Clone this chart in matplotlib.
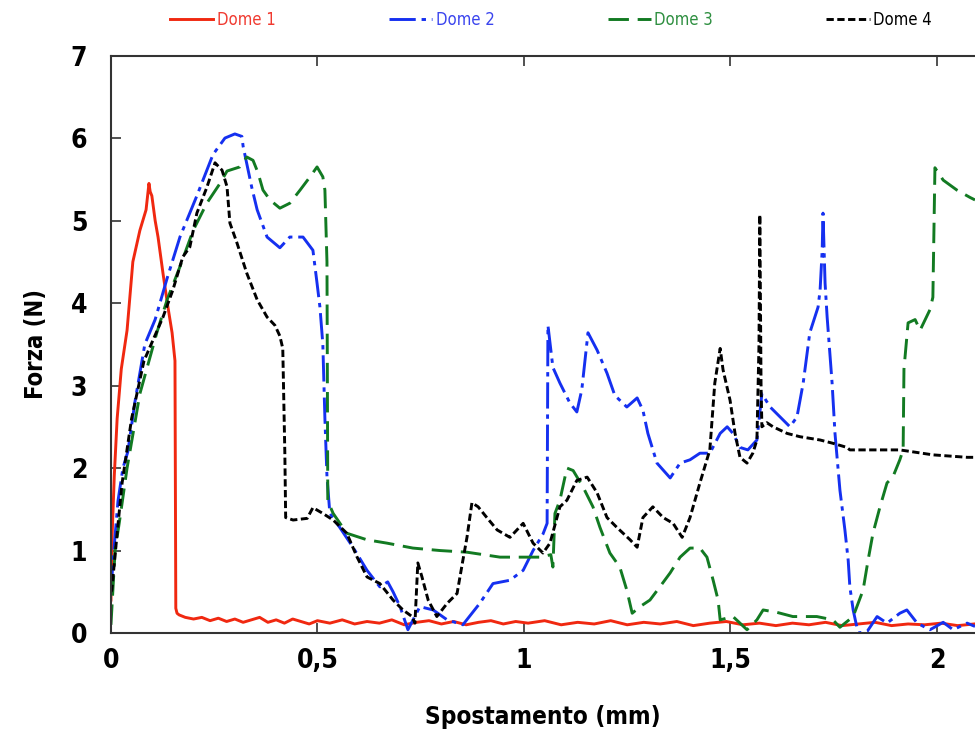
import matplotlib.pyplot as plt
from matplotlib.ticker import FuncFormatter

# Forza vs spostamento, quattro dome
dome1_x = [0, 0.003, 0.008, 0.015, 0.025, 0.039, 0.053, 0.070, 0.085, 0.092, 0.095, 0.099,
           0.107, 0.114, 0.126, 0.138, 0.148, 0.155, 0.157, 0.160,
           0.165, 0.18, 0.20, 0.22, 0.24, 0.26, 0.28, 0.30, 0.32, 0.34, 0.36, 0.38, 0.40,
           0.42, 0.44, 0.46, 0.48, 0.50, 0.53, 0.56, 0.59, 0.62, 0.65, 0.68, 0.71, 0.74,
           0.77, 0.80, 0.83, 0.86, 0.89, 0.92, 0.95, 0.98, 1.01, 1.05, 1.09, 1.13, 1.17,
           1.21, 1.25, 1.29, 1.33, 1.37, 1.41, 1.45, 1.49, 1.53, 1.57, 1.61, 1.65, 1.69,
           1.73, 1.77, 1.81, 1.85, 1.89, 1.93, 1.97, 2.01, 2.05, 2.09]
dome1_y = [0.4, 1.2, 1.9, 2.6, 3.2, 3.67, 4.5, 4.88, 5.13, 5.45, 5.35, 5.3,
           5.0, 4.8, 4.36, 3.95, 3.64, 3.3, 0.3, 0.24,
           0.22, 0.19, 0.17, 0.19, 0.15, 0.18, 0.14, 0.17, 0.13, 0.16, 0.19, 0.13, 0.16,
           0.12, 0.17, 0.14, 0.11, 0.15, 0.12, 0.16, 0.11, 0.14, 0.12, 0.16, 0.10, 0.13,
           0.15, 0.11, 0.14, 0.10, 0.13, 0.15, 0.11, 0.14, 0.12, 0.15, 0.10, 0.13, 0.11,
           0.15, 0.10, 0.13, 0.11, 0.14, 0.09, 0.12, 0.14, 0.10, 0.12, 0.09, 0.12, 0.10,
           0.13, 0.09, 0.11, 0.13, 0.09, 0.11, 0.10, 0.12, 0.09, 0.11]

dome2_x = [0, 0.005, 0.017, 0.029, 0.041, 0.058, 0.082, 0.107, 0.136, 0.167, 0.208, 0.247,
           0.276, 0.300, 0.317, 0.320, 0.341, 0.354, 0.378, 0.409, 0.433, 0.465, 0.489,
           0.499, 0.506, 0.513, 0.518, 0.523, 0.530, 0.554, 0.586, 0.620, 0.651, 0.670,
           0.683, 0.700, 0.719, 0.748, 0.780, 0.814, 0.852, 0.893, 0.925, 0.966, 0.998,
           1.022, 1.046, 1.056, 1.058, 1.070, 1.087, 1.111, 1.128, 1.140, 1.155, 1.177,
           1.201, 1.220, 1.249, 1.274, 1.288, 1.300, 1.322, 1.354, 1.378, 1.402, 1.426,
           1.450, 1.475, 1.492, 1.506, 1.523, 1.542, 1.564, 1.576, 1.596, 1.620, 1.644,
           1.661, 1.676, 1.692, 1.712, 1.717, 1.722, 1.724, 1.729, 1.734, 1.746, 1.753,
           1.765, 1.777, 1.785, 1.789, 1.797, 1.809, 1.831, 1.855, 1.879, 1.910, 1.927,
           1.952, 1.983, 2.015, 2.039, 2.073, 2.092]
dome2_y = [0.5, 0.88, 1.6, 2.0, 2.2, 2.8, 3.5, 3.8, 4.3, 4.8, 5.3, 5.8,
           6.0, 6.05, 6.02, 5.9, 5.4, 5.13, 4.8, 4.67, 4.8, 4.8, 4.64,
           4.24, 3.95, 3.5, 2.6, 1.9, 1.45, 1.28, 1.04, 0.76, 0.56, 0.62,
           0.5, 0.32, 0.04, 0.32, 0.28, 0.16, 0.10, 0.36, 0.6, 0.64, 0.76,
           1.0, 1.2, 1.33, 3.73, 3.22, 3.03, 2.79, 2.68, 2.95, 3.64, 3.43,
           3.15, 2.88, 2.74, 2.85, 2.7, 2.42, 2.06, 1.88, 2.06, 2.1, 2.18,
           2.18, 2.42, 2.5, 2.42, 2.25, 2.22, 2.34, 2.9, 2.74, 2.62, 2.5,
           2.62, 3.03, 3.64, 3.95, 4.16, 4.64, 5.09, 4.24, 3.83, 3.03, 2.42,
           1.73, 1.25, 0.88, 0.56, 0.28, 0.0, 0.02, 0.2, 0.12, 0.24, 0.28,
           0.12, 0.04, 0.13, 0.04, 0.12, 0.08]

dome3_x = [0, 0.002, 0.010, 0.022, 0.039, 0.046, 0.070, 0.111, 0.136, 0.167, 0.199, 0.232,
           0.264, 0.281, 0.312, 0.329, 0.344, 0.356, 0.368, 0.385, 0.409, 0.433, 0.458,
           0.482, 0.499, 0.513, 0.518, 0.523, 0.525, 0.538, 0.571, 0.620, 0.668, 0.731,
           0.797, 0.862, 0.942, 1.007, 1.040, 1.065, 1.070, 1.075, 1.087, 1.104, 1.119,
           1.143, 1.167, 1.184, 1.208, 1.232, 1.249, 1.262, 1.281, 1.305, 1.329, 1.354,
           1.378, 1.402, 1.426, 1.443, 1.458, 1.470, 1.475, 1.506, 1.540, 1.564, 1.579,
           1.613, 1.651, 1.709, 1.748, 1.765, 1.797, 1.821, 1.833, 1.845, 1.862, 1.879,
           1.893, 1.910, 1.918, 1.920, 1.930, 1.947, 1.959, 1.983, 1.990, 1.995, 2.015,
           2.048, 2.080, 2.092]
dome3_y = [0.1, 0.28, 1.0, 1.4, 2.0, 2.2, 2.9, 3.64, 4.04, 4.44, 4.88, 5.21,
           5.45, 5.6, 5.65, 5.77, 5.73, 5.58, 5.37, 5.25, 5.15, 5.21, 5.37,
           5.53, 5.65, 5.53, 5.37, 4.5, 1.6, 1.45, 1.21, 1.13, 1.09, 1.03,
           1.0, 0.98, 0.92, 0.92, 0.92, 0.95, 0.8, 1.45, 1.61, 2.0, 1.97,
           1.77, 1.53, 1.28, 0.97, 0.8, 0.52, 0.24, 0.32, 0.4, 0.56, 0.73,
           0.92, 1.03, 1.03, 0.92, 0.64, 0.4, 0.16, 0.2, 0.04, 0.16, 0.28,
           0.25, 0.2, 0.2, 0.16, 0.07, 0.2, 0.52, 0.88, 1.21, 1.53, 1.82,
           1.89, 2.1, 2.22, 3.2, 3.76, 3.8, 3.67, 3.92, 4.07, 5.64, 5.49,
           5.37, 5.28, 5.25]

dome4_x = [0, 0.002, 0.015, 0.027, 0.050, 0.080, 0.126, 0.150, 0.174, 0.191, 0.208, 0.232,
           0.252, 0.269, 0.281, 0.288, 0.305, 0.329, 0.354, 0.378, 0.397, 0.409, 0.416,
           0.421, 0.423, 0.441, 0.475, 0.489, 0.513, 0.538, 0.571, 0.596, 0.620, 0.651,
           0.683, 0.707, 0.729, 0.736, 0.743, 0.753, 0.768, 0.789, 0.814, 0.838, 0.852,
           0.862, 0.874, 0.889, 0.910, 0.935, 0.966, 0.998, 1.022, 1.046, 1.063, 1.087,
           1.104, 1.128, 1.153, 1.177, 1.201, 1.225, 1.257, 1.274, 1.288, 1.312, 1.337,
           1.361, 1.383, 1.402, 1.426, 1.450, 1.462, 1.475, 1.482, 1.499, 1.511, 1.523,
           1.540, 1.554, 1.564, 1.569, 1.571, 1.574, 1.576, 1.588, 1.603, 1.637, 1.668,
           1.717, 1.748, 1.782, 1.789, 1.910, 1.990, 2.073, 2.092]
dome4_y = [0.5, 0.52, 1.21, 1.82, 2.6, 3.3, 3.83, 4.16, 4.56, 4.68, 5.09, 5.4,
           5.7, 5.61, 5.41, 4.97, 4.73, 4.36, 4.04, 3.83, 3.73, 3.6, 3.45,
           2.18, 1.4, 1.37, 1.39, 1.52, 1.45, 1.37, 1.21, 0.92, 0.68, 0.6,
           0.4, 0.28, 0.2, 0.12, 0.85, 0.68, 0.4, 0.2, 0.36, 0.48, 0.88,
           1.16, 1.58, 1.53, 1.4, 1.25, 1.16, 1.33, 1.09, 0.97, 1.09, 1.53,
           1.61, 1.85, 1.89, 1.7, 1.4, 1.28, 1.13, 1.04, 1.4, 1.53, 1.4,
           1.33, 1.16, 1.4, 1.82, 2.22, 3.03, 3.45, 3.19, 2.82, 2.42, 2.13,
           2.06, 2.18, 2.34, 3.5, 5.07, 3.0, 2.5, 2.55, 2.5, 2.42, 2.38,
           2.34, 2.3, 2.25, 2.22, 2.22, 2.16, 2.13, 2.13]

labels = ["Dome 1", "Dome 2", "Dome 3", "Dome 4"]
x_ticks = [0, 0.5, 1, 1.5, 2]
y_ticks = [0, 1, 2, 3, 4, 5, 6, 7]

# font stretta (condensed) per etichette e legenda
narrow = {'family': 'DejaVu Sans', 'stretch': 'condensed'}

fig = plt.figure(figsize=(9.75, 7.31), dpi=100)
ax = fig.add_axes([0.1138, 0.134, 0.8862, 0.790])

ax.plot(dome1_x, dome1_y, color='#f02810', lw=2.1, label=labels[0])
ax.plot(dome2_x, dome2_y, color='#1530f0', lw=2.1, ls=(0, (9, 2, 1.5, 2)), label=labels[1])
ax.plot(dome3_x, dome3_y, color='#127a22', lw=2.1, ls=(0, (7, 3)), label=labels[2])
ax.plot(dome4_x, dome4_y, color='#000000', lw=2.1, ls=(0, (2.5, 1.2)), label=labels[3])

ax.set_xlim(0, 2.092)
ax.set_ylim(0, 7)
ax.set_xticks(x_ticks)
ax.set_yticks(y_ticks)
ax.xaxis.set_major_formatter(FuncFormatter(lambda v, p: ('%g' % v).replace('.', ',')))

ax.spines['right'].set_visible(False)
for s in ['top', 'left', 'bottom']:
    ax.spines[s].set_linewidth(1.5)
    ax.spines[s].set_color('#333333')
ax.tick_params(direction='in', top=True, length=7, width=1.2, color='#333333')
ax.tick_params(axis='y', pad=17)
ax.tick_params(axis='x', pad=11)
for lab in ax.get_xticklabels() + ax.get_yticklabels():
    lab.set_family(narrow['family'])
    lab.set_stretch(narrow['stretch'])
    lab.set_fontweight('bold')
    lab.set_fontsize(19)

ax.set_xlabel("Spostamento (mm)", fontweight='bold', fontsize=17.5, labelpad=22, **narrow)
ax.set_ylabel("Forza (N)", fontweight='bold', fontsize=17, labelpad=16, **narrow)

leg = fig.legend(loc='center', bbox_to_anchor=(0.565, 0.973), ncol=4, frameon=False,
                 handlelength=2.6, handletextpad=0.2, columnspacing=6.8,
                 labelcolor='linecolor', prop={'family': 'DejaVu Sans', 'stretch': 'condensed', 'size': 12})
leg.get_texts()[0].set_color('#f03a30')
leg.get_texts()[1].set_color('#3a44ee')
leg.get_texts()[2].set_color('#2e8f40')

fig.savefig("out.png", dpi=100)
